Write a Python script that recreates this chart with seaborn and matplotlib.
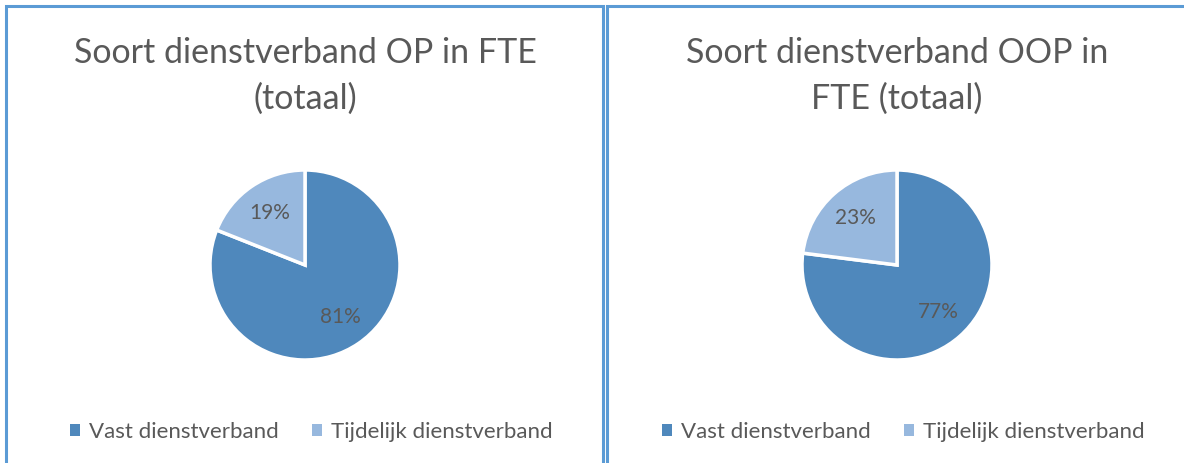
import matplotlib
matplotlib.use('Agg')
import matplotlib.pyplot as plt
import seaborn as sns
from matplotlib.patches import Rectangle, Patch

labels = ['Vast dienstverband', 'Tijdelijk dienstverband']
titles = ['Soort dienstverband OP in FTE\n(totaal)', 'Soort dienstverband OOP in\nFTE (totaal)']
op_values = [81, 19]
oop_values = [77, 23]

sns.set_style('white')
plt.rcParams['font.family'] = ['Lato', 'DejaVu Sans']
colors = ['#4F88BC', '#97B8DE']
text_col = '#595959'

W, H = 1184, 463
fig = plt.figure(figsize=(W / 100, H / 100), dpi=100)

# panel borders
border = '#5B9BD5'
fig.add_artist(Rectangle((6 / W, -0.1), 597 / W, 1.1 - 6.5 / H, transform=fig.transFigure,
                         fill=False, edgecolor=border, lw=2.2))
fig.add_artist(Rectangle((606.5 / W, -0.1), 1, 1.1 - 6.5 / H, transform=fig.transFigure,
                         fill=False, edgecolor=border, lw=2.2))

centers = [305, 897]
r = 95
cy = 265
for cx, vals, title in zip(centers, [op_values, oop_values], titles):
    ax = fig.add_axes([(cx - r) / W, (H - cy - r) / H, 2 * r / W, 2 * r / H])
    ax.pie(vals, colors=colors, startangle=90, counterclock=False,
           autopct='%1.0f%%', pctdistance=0.66,
           wedgeprops=dict(edgecolor='white', linewidth=2.5),
           textprops=dict(color=text_col, fontsize=15))
    ax.set_xlim(-1.0, 1.0)
    ax.set_ylim(-1.0, 1.0)
    ax.axis('off')
    fig.text(cx / W, (H - 76) / H, title, ha='center', va='center', fontsize=24.5,
             color=text_col, linespacing=1.55)
    handles = [Patch(facecolor=c, edgecolor='none') for c in colors]
    fig.legend(handles, labels, loc='center', bbox_to_anchor=((cx + 6) / W, (H - 432) / H),
               ncol=2, frameon=False, fontsize=16, labelcolor=text_col,
               handlelength=0.45, handleheight=0.45, handletextpad=0.4, columnspacing=1.5)

fig.savefig('out.png', dpi=100)
